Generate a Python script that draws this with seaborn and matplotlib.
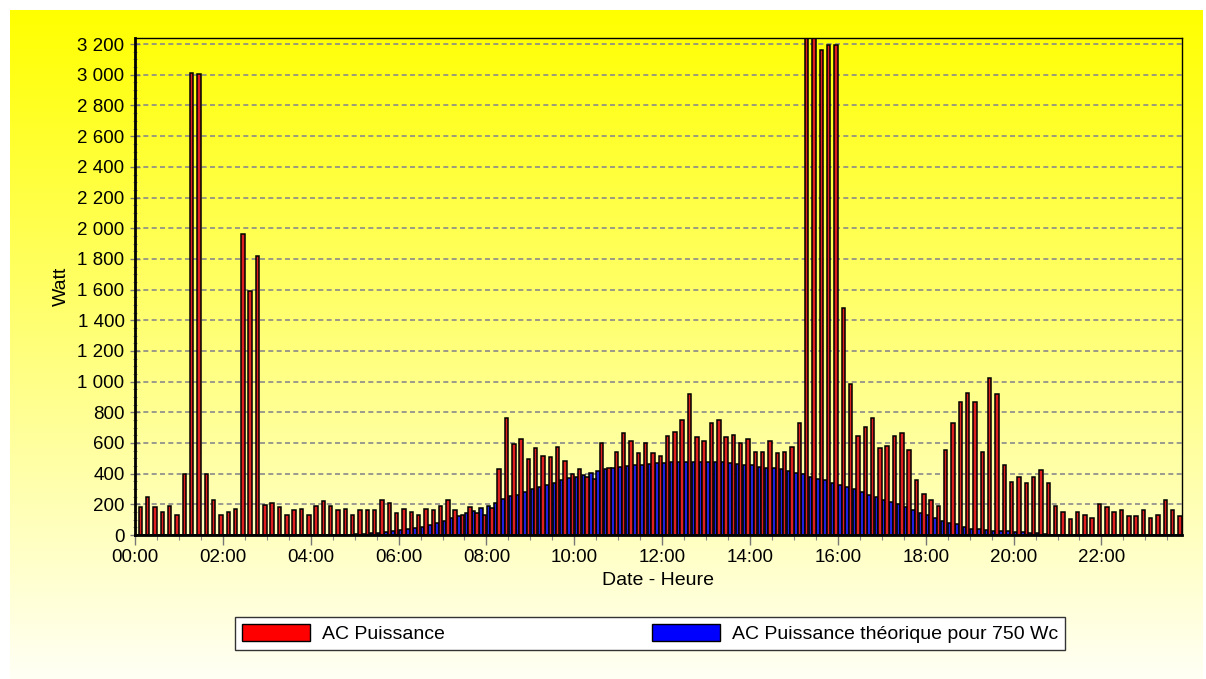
import numpy as np
import pandas as pd
import matplotlib
matplotlib.use("Agg")
import matplotlib.pyplot as plt
from matplotlib.patches import Patch
from matplotlib.ticker import MultipleLocator
import seaborn as sns

plt.rcParams['font.family'] = ['Liberation Sans', 'DejaVu Sans']

# AC power, one value per 10 minute slot from 00:00 to 23:40 (W)
red = [182, 250, 182, 150, 189, 130, 395, 3010, 3005, 395, 228, 130,
       150, 172, 1960, 1590, 1820, 193, 208, 182, 130, 160, 172, 130,
       189, 220, 189, 160, 172, 130, 160, 160, 160, 230, 211, 141,
       172, 150, 130, 172, 160, 189, 230, 160, 130, 182, 141, 130,
       178, 428, 760, 593, 624, 495, 565, 515, 506, 574, 485, 398,
       428, 380, 367, 602, 439, 543, 663, 613, 532, 602, 532, 513,
       643, 672, 750, 919, 641, 615, 732, 750, 641, 652, 602, 624,
       543, 543, 615, 532, 543, 571, 732, 3250, 3250, 3162, 3192, 3192,
       1482, 985, 643, 702, 762, 564, 582, 643, 663, 554, 356, 267,
       228, 189, 554, 732, 867, 926, 867, 543, 1026, 919, 455, 347,
       376, 340, 376, 426, 341, 189, 152, 102, 152, 130, 113, 200,
       180, 152, 163, 124, 124, 163, 113, 130, 230, 163, 124]

# theoretical AC power for 750 Wc, same slots (W)
blue = [0, 0, 0, 0, 0, 0, 0, 0, 0, 0, 0, 0,
        0, 0, 0, 0, 0, 0, 0, 0, 0, 0, 0, 0,
        0, 0, 0, 0, 2, 3, 5, 7, 10, 14, 20, 26,
        32, 38, 45, 54, 66, 79, 93, 110, 126, 141, 157, 178,
        191, 211, 232, 252, 261, 278, 300, 311, 328, 341, 358, 369,
        380, 391, 406, 417, 428, 436, 441, 447, 456, 458, 465, 467,
        472, 474, 475, 475, 475, 475, 475, 475, 475, 469, 465, 458,
        455, 446, 440, 436, 428, 417, 406, 395, 381, 368, 358, 342,
        328, 312, 302, 280, 262, 249, 229, 212, 199, 182, 161, 142,
        129, 111, 91, 80, 70, 55, 42, 36, 31, 29, 27, 26,
        22, 20, 16, 11, 6, 3, 0, 0, 0, 0, 0, 0,
        0, 0, 0, 0, 0, 0, 0, 0, 0, 0, 0]

x_ticks = [0, 2, 4, 6, 8, 10, 12, 14, 16, 18, 20, 22]
x_labels = ['00:00', '02:00', '04:00', '06:00', '08:00', '10:00',
            '12:00', '14:00', '16:00', '18:00', '20:00', '22:00']
y_ticks = [0, 200, 400, 600, 800, 1000, 1200, 1400, 1600, 1800,
           2000, 2200, 2400, 2600, 2800, 3000, 3200]
y_labels = ['0', '200', '400', '600', '800', '1 000', '1 200', '1 400',
            '1 600', '1 800', '2 000', '2 200', '2 400', '2 600',
            '2 800', '3 000', '3 200']

s_red = 'AC Puissance'
s_blue = 'AC Puissance théorique pour 750 Wc'

n = len(red)
pos = [i / 6 + 1 / 12 for i in range(n)]  # slot centres in hours
df = pd.concat([
    pd.DataFrame({'heure': pos, 'watt': blue, 'serie': s_blue}),
    pd.DataFrame({'heure': pos, 'watt': red, 'serie': s_red}),
], ignore_index=True)

fig = plt.figure(figsize=(12.06, 6.79), dpi=100)
fig.patch.set_facecolor('white')

# yellow gradient panel behind everything
bg = fig.add_axes([10 / 1206, 0, 1193 / 1206, 1 - 10 / 679])
grad = np.linspace(0, 1, 256).reshape(-1, 1)
rgb = np.zeros((256, 1, 3))
rgb[..., 0] = 1.0
rgb[..., 1] = 1.0
rgb[..., 2] = grad * 0.96
bg.imshow(rgb, aspect='auto', extent=[0, 1, 0, 1], origin='upper')
bg.set_axis_off()

ax = fig.add_axes([135 / 1206, 1 - 535 / 679, 1047 / 1206, 497 / 679])
ax.set_facecolor('none')

sns.barplot(data=df, x='heure', y='watt', hue='serie',
            hue_order=[s_blue, s_red],
            palette={s_red: '#ff0000', s_blue: '#0000ff'},
            native_scale=True, dodge=True, width=0.94, errorbar=None,
            edgecolor='black', linewidth=1.1, legend=False, ax=ax)

ax.set_xlim(0, n / 6)
ax.set_ylim(0, 3240)
ax.set_xticks(x_ticks, x_labels)
ax.xaxis.set_minor_locator(MultipleLocator(0.5))
ax.set_yticks(y_ticks, y_labels)
ax.yaxis.set_minor_locator(MultipleLocator(50))

ax.set_axisbelow(True)
ax.yaxis.grid(True, color='#8a8a8a', linestyle=(0, (3, 2)), linewidth=1.2)
ax.xaxis.grid(False)

ax.tick_params(axis='y', which='major', direction='inout', length=7,
               width=1, color='#777777', pad=4, labelsize=13.5)
ax.tick_params(axis='y', which='minor', direction='inout', length=3,
               width=0.8, color='#888888')
ax.tick_params(axis='x', which='major', direction='out', length=7,
               width=1, color='#777777', pad=3, labelsize=13.5)
ax.tick_params(axis='x', which='minor', direction='out', length=3.5,
               width=0.8, color='#888888')

for side in ['left', 'bottom']:
    ax.spines[side].set_linewidth(2)
    ax.spines[side].set_color('black')
for side in ['top', 'right']:
    ax.spines[side].set_linewidth(1)
    ax.spines[side].set_color('black')

ax.set_xlabel('Date - Heure', fontsize=14)
ax.set_ylabel('Watt', fontsize=14)
ax.xaxis.set_label_coords(0.5, -0.074)
ax.yaxis.set_label_coords(-0.062, 0.5)

handles = [Patch(facecolor='#ff0000', edgecolor='black', linewidth=1),
           Patch(facecolor='#0000ff', edgecolor='black', linewidth=1)]
leg = fig.legend(handles, [s_red, s_blue], ncol=2, mode='expand',
                 loc='center',
                 bbox_to_anchor=(235 / 1206, 29 / 679, 830 / 1206, 33 / 679),
                 borderaxespad=0, borderpad=0.35, fontsize=14,
                 handlelength=3.5, handleheight=0.97, handletextpad=0.62,
                 fancybox=False, framealpha=1, facecolor='white',
                 edgecolor='#333333')
leg.get_frame().set_linewidth(1)

fig.savefig('out.png', dpi=100)
